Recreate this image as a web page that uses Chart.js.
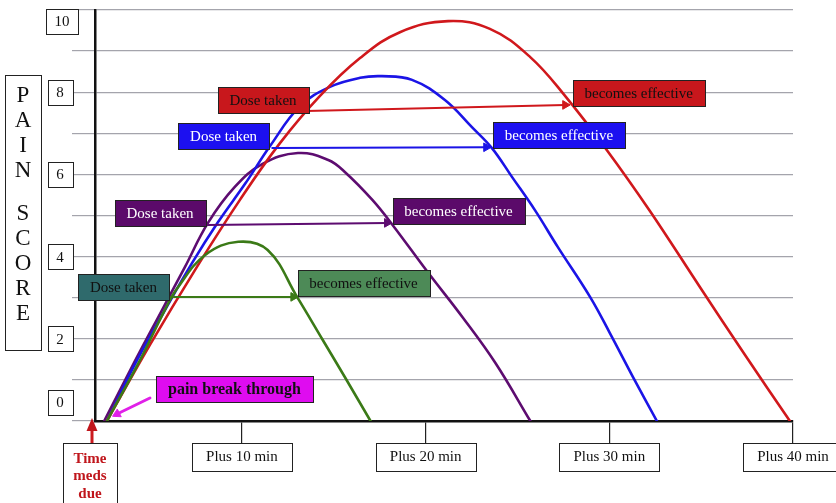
<!DOCTYPE html>
<html><head><meta charset="utf-8">
<script src="https://cdn.jsdelivr.net/npm/chart.js@4.4.1/dist/chart.umd.min.js"></script>
<style>html,body{margin:0;padding:0;background:#fff;}#wrap{width:836px;height:503px;position:relative}</style>
</head><body><div id="wrap"><canvas id="c" width="836" height="503"></canvas></div>
<script>
const SERIF = '"Liberation Serif","Times New Roman",serif';

// ---- axis texts ----
const xTickValues = [10, 20, 30, 40];
const xTickLabels = ['Plus 10 min', 'Plus 20 min', 'Plus 30 min', 'Plus 40 min'];
const yLabelValues = [0, 2, 4, 6, 8, 10];
const yTitleLetters = ['P', 'A', 'I', 'N', '', 'S', 'C', 'O', 'R', 'E'];
const dueLabel = ['Time', 'meds', 'due'];

// ---- curves (minutes, pain score) ----
const redX = [2.65, 4.99, 7.55, 9.89, 12.07, 14.25, 16.43, 18.60, 21.22, 23.50, 25.68, 27.59, 29.87, 32.21, 34.93, 37.38, 39.83];
const redY = [0, 1.85, 3.75, 5.38, 6.76, 7.91, 8.83, 9.46, 9.73, 9.54, 8.86, 7.91, 6.59, 5.11, 3.26, 1.61, 0];

const blueX = [2.65, 4.29, 5.81, 7.28, 8.70, 10.17, 11.53, 13.16, 14.79, 16.43, 17.62, 19.26, 21.05, 22.52, 23.61, 24.70, 25.95, 27.20, 28.95, 30.03, 31.29, 32.59];
const blueY = [0, 1.48, 2.70, 3.84, 4.84, 5.77, 6.69, 7.66, 8.13, 8.35, 8.39, 8.30, 7.81, 7.15, 6.64, 5.94, 5.13, 4.23, 3.02, 2.14, 1.07, 0];

const purpleX = [2.5, 4.2, 5.65, 6.9, 8.15, 9.6, 11.1, 13.05, 14.7, 15.6, 17.1, 18.2, 20.1, 22.0, 23.8, 25.7];
const purpleY = [0, 1.48, 2.70, 3.75, 4.82, 5.69, 6.25, 6.52, 6.35, 6.06, 5.38, 4.77, 3.63, 2.53, 1.41, 0];

const greenX = [2.65, 4.45, 5.8, 6.5, 8.0, 9.8, 11.4, 13.0, 14.4, 15.6, 17.0];
const greenY = [0, 1.48, 2.70, 3.24, 4.04, 4.36, 4.16, 3.02, 1.97, 1.07, 0];

// ---- "dose taken" -> "becomes effective" arrows ----
const redArrowX = [13.5, 27.6], redArrowY = [7.54, 7.69];
const blueArrowX = [11.65, 23.3], blueArrowY = [6.64, 6.66];
const purpleArrowX = [8.1, 17.9], purpleArrowY = [4.77, 4.82];
const greenArrowX = [5.95, 12.8], greenArrowY = [3.02, 3.02];
const painArrowX = [4.99, 3.2], painArrowY = [0.56, 0.17];

// ---- annotation labels ----
const doseText = 'Dose taken';
const effText = 'becomes effective';
const painText = 'pain break through';

const COL = {
  red: '#d0181c', blue: '#1b14e6', purple: '#5d0c70', green: '#3b7a17', magenta: '#e020e8'
};

// annotation boxes (anchored in data units)
const boxes = [
  {text: doseText, x: 11.15, y: 7.82, fill: '#c8171c', color: '#111'},
  {text: effText,  x: 31.6,  y: 7.97, fill: '#c8171c', color: '#111'},
  {text: doseText, x: 9.0,   y: 6.93, fill: '#1c10f0', color: '#fff'},
  {text: effText,  x: 27.26, y: 6.95, fill: '#1c10f0', color: '#fff'},
  {text: doseText, x: 5.54,  y: 5.05, fill: '#5b0a6a', color: '#fff'},
  {text: effText,  x: 21.79, y: 5.10, fill: '#5b0a6a', color: '#fff'},
  {text: doseText, x: 3.55,  y: 3.26, fill: '#2f6a6c', color: '#111'},
  {text: effText,  x: 16.62, y: 3.36, fill: '#4d8a57', color: '#111'},
  {text: painText, x: 9.59,  y: 0.78, fill: '#df0cf0', color: '#111', bold: true, size: 16}
];

function pts(xs, ys) { return xs.map((x, i) => ({x: x, y: ys[i]})); }
function curve(xs, ys, color) {
  return {data: pts(xs, ys), borderColor: color, borderWidth: 2.6, pointRadius: 0,
    tension: 0.4, fill: false};
}
function arrow(xs, ys, color, rot, w) {
  return {data: pts(xs, ys), borderColor: color, backgroundColor: color, borderWidth: w || 2,
    pointRadius: [0, 5], pointStyle: 'triangle', pointRotation: [0, rot],
    pointBackgroundColor: color, pointBorderColor: color, pointBorderWidth: 1, tension: 0, fill: false};
}

const deco = {
  id: 'deco',
  afterDatasetsDraw(chart) {
    const {ctx, scales: {x, y}} = chart;
    ctx.save();
    boxes.forEach(b => {
      const size = b.size || 15;
      ctx.font = (b.bold ? 'bold ' : '') + size + 'px ' + SERIF;
      const tw = ctx.measureText(b.text).width;
      const w = Math.round(tw + 24), h = 26;
      const cx = x.getPixelForValue(b.x), cy = y.getPixelForValue(b.y);
      const l = Math.round(cx - w / 2) + 0.5, t = Math.round(cy - h / 2) + 0.5;
      ctx.fillStyle = b.fill;
      ctx.fillRect(l, t, w, h);
      ctx.strokeStyle = '#222';
      ctx.lineWidth = 1;
      ctx.strokeRect(l, t, w, h);
      ctx.fillStyle = b.color;
      ctx.textAlign = 'center';
      ctx.textBaseline = 'middle';
      ctx.fillText(b.text, cx, cy + 1);
    });
    ctx.restore();
  },
  afterDraw(chart) {
    const {ctx, chartArea: a, scales: {x, y}} = chart;
    ctx.save();
    ctx.textAlign = 'center';
    ctx.textBaseline = 'middle';
    // y tick labels in boxes
    ctx.font = '15px ' + SERIF;
    yLabelValues.forEach(v => {
      let py = y.getPixelForValue(v);
      py = Math.min(Math.max(py, a.top + 11), a.bottom - 19);
      const txt = String(v);
      const tw = ctx.measureText(txt).width;
      const w = Math.round(tw + 17), h = 25;
      const cx = 60 + (txt.length > 1 ? 2 : 0);
      const l = Math.round(cx - w / 2) + 0.5, t = Math.round(py - h / 2) + 0.5;
      ctx.fillStyle = '#fff';
      ctx.fillRect(l, t, w, h);
      ctx.strokeStyle = '#222';
      ctx.lineWidth = 1;
      ctx.strokeRect(l, t, w, h);
      ctx.fillStyle = '#111';
      ctx.fillText(txt, cx, py + 1);
    });
    // y title box
    ctx.strokeStyle = '#222';
    ctx.lineWidth = 1;
    ctx.strokeRect(5.5, 75.5, 36, 275);
    ctx.font = '23px ' + SERIF;
    ctx.fillStyle = '#111';
    let pos = 96;
    yTitleLetters.forEach(ch => {
      if (ch === '') { pos += 18; return; }
      ctx.fillText(ch, 23, pos);
      pos += 25;
    });
    // x tick label boxes
    x.ticks.forEach(tk => {
      const px = x.getPixelForValue(tk.value);
      ctx.strokeRect(Math.round(px - 50) + 0.5, a.bottom + 22.5, 100, 28);
    });
    // time meds due
    const dx = a.left - 3;
    ctx.strokeRect(a.left - 31.5, a.bottom + 22.5, 54, 70);
    ctx.fillStyle = '#c0161c';
    ctx.font = 'bold 15px ' + SERIF;
    dueLabel.forEach((s, i) => ctx.fillText(s, a.left - 5, a.bottom + 38 + i * 17.5));
    ctx.strokeStyle = '#cc1a1f';
    ctx.lineWidth = 3;
    ctx.beginPath();
    ctx.moveTo(dx, a.bottom + 22);
    ctx.lineTo(dx, a.bottom + 8);
    ctx.stroke();
    ctx.beginPath();
    ctx.moveTo(dx, a.bottom - 3);
    ctx.lineTo(dx - 5.5, a.bottom + 10);
    ctx.lineTo(dx + 5.5, a.bottom + 10);
    ctx.closePath();
    ctx.fill();
    ctx.restore();
  }
};

new Chart(document.getElementById('c'), {
  type: 'line',
  data: {
    datasets: [
      arrow(redArrowX, redArrowY, COL.red, 90),
      arrow(blueArrowX, blueArrowY, COL.blue, 90),
      arrow(purpleArrowX, purpleArrowY, COL.purple, 90),
      arrow(greenArrowX, greenArrowY, COL.green, 90),
      arrow(painArrowX, painArrowY, COL.magenta, 243, 3),
      curve(greenX, greenY, COL.green),
      curve(redX, redY, COL.red),
      curve(blueX, blueY, COL.blue),
      curve(purpleX, purpleY, COL.purple)
    ]
  },
  options: {
    responsive: false,
    animation: false,
    layout: {padding: {left: 0, top: 10, right: 43, bottom: 0}},
    plugins: {legend: {display: false}, tooltip: {enabled: false}, title: {display: false}},
    elements: {line: {borderCapStyle: 'round'}},
    scales: {
      x: {
        type: 'linear', min: 2, max: 40,
        afterBuildTicks: s => { s.ticks = xTickValues.map(v => ({value: v})); },
        ticks: {
          callback: (v, i) => xTickLabels[i],
          font: {family: SERIF, size: 15}, color: '#111', padding: 5,
          maxRotation: 0, autoSkip: false
        },
        grid: {drawOnChartArea: false, drawTicks: true, tickLength: 22, color: '#222', lineWidth: 1.2},
        border: {display: true, color: '#111', width: 2.5},
        afterFit: s => { s.height = 82; }
      },
      y: {
        min: 0, max: 10,
        ticks: {stepSize: 1, display: false},
        grid: {color: '#a4a4ac', lineWidth: 1.2, drawTicks: true, tickLength: 23},
        border: {display: true, color: '#111', width: 2.5},
        afterFit: s => { s.width = 95; }
      }
    }
  },
  plugins: [deco]
});
</script>
</body></html>
